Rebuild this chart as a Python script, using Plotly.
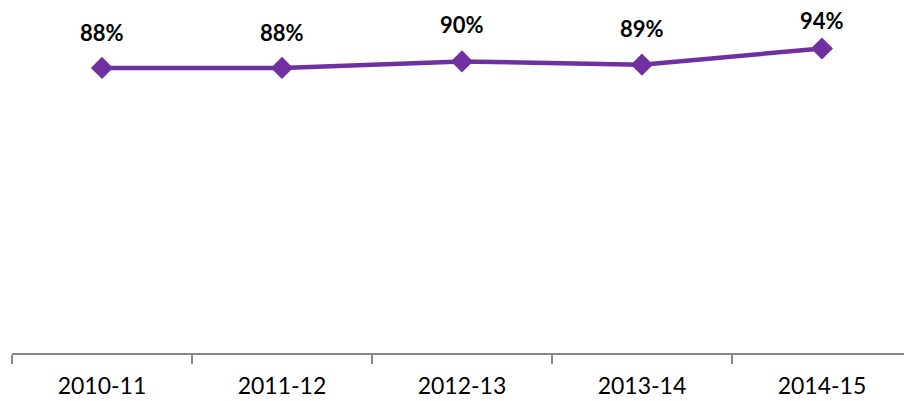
import plotly.graph_objects as go

years = ["2010-11", "2011-12", "2012-13", "2013-14", "2014-15"]
rates = [0.88, 0.88, 0.90, 0.89, 0.94]
labels = ["88%", "88%", "90%", "89%", "94%"]

purple = "#7030A0"

fig = go.Figure()
fig.add_trace(go.Scatter(
    x=years, y=rates, mode="lines+markers",
    line=dict(color=purple, width=4.5),
    marker=dict(symbol="diamond", size=17, color=purple),
    hoverinfo="skip", showlegend=False,
))

label_shift = [35, 35, 37, 36, 28]
for x, y, t, s in zip(years, rates, labels, label_shift):
    fig.add_annotation(x=x, y=y, text=t, showarrow=False, yshift=s,
                       font=dict(family="Lato", size=22, color="black", weight="bold"))

fig.update_layout(
    width=904, height=401,
    margin=dict(l=12, r=0, t=29, b=48),
    paper_bgcolor="white", plot_bgcolor="white",
    xaxis=dict(type="category", range=[-0.5, 4.456], tickson="boundaries",
               ticks="outside", ticklen=9, tickcolor="#888888", tickwidth=1.5,
               showline=True, linecolor="#888888", linewidth=1.5,
               showgrid=False, zeroline=False, ticklabelstandoff=12,
               tickfont=dict(family="Lato", size=23, color="black")),
    yaxis=dict(range=[0, 1], visible=False, showgrid=False, zeroline=False),
)

fig.write_html("out.html")
